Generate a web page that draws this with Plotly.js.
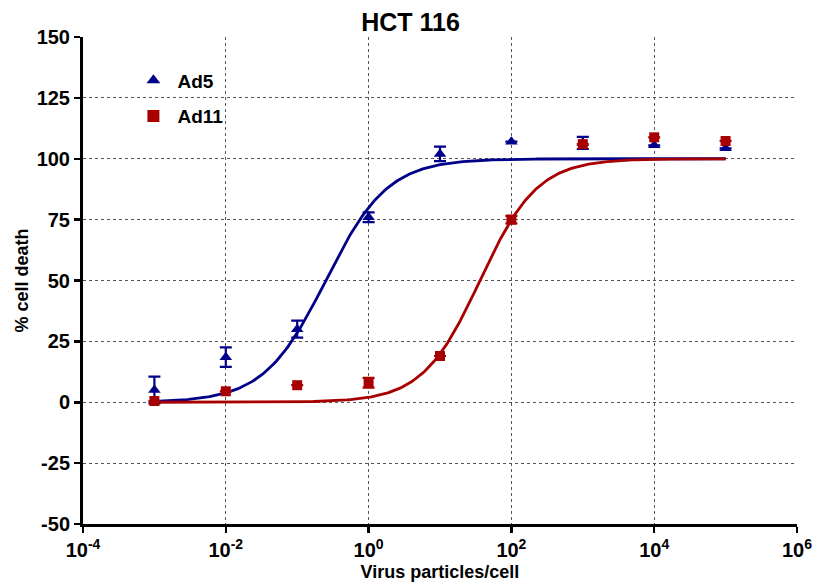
<!DOCTYPE html>
<html>
<head>
<meta charset="utf-8">
<script src="https://cdn.plot.ly/plotly-3.0.1.min.js"></script>
<style>
  html, body { margin: 0; padding: 0; background: #fff; }
  #chart { width: 821px; height: 587px; }
</style>
</head>
<body>
<div id="chart"></div>
<script>
// Virus dose (particles/cell)
const doses = [1e-3, 1e-2, 1e-1, 1, 10, 100, 1000, 1e4, 1e5];

// Mean % cell death and SEM per virus
const ad5Mean  = [5, 18.5, 30, 76, 102, 107, 106.5, 105.5, 104.3];
const ad5Err   = [5.5, 4, 3.5, 2, 3, 0, 2.5, 0, 0];
const ad11Mean = [0.5, 4.5, 7, 8, 19, 75, 106, 108.8, 107.3];
const ad11Err  = [0, 0, 0, 2, 0, 1.5, 0, 0, 0];

// Sigmoidal dose-response fit parameters (log10 EC50, Hill slope, bottom, top)
const ad5Fit  = { logEC50: -0.6, hill: 1.0, bottom: 0, top: 100 };
const ad11Fit = { logEC50: 1.56, hill: 1.08, bottom: 0, top: 100 };

// Tick labels for both axes
const xTickVals = [1e-4, 1e-2, 1, 1e2, 1e4, 1e6];
const xTickText = ['10<sup>-4</sup>', '10<sup>-2</sup>', '10<sup>0</sup>',
                   '10<sup>2</sup>', '10<sup>4</sup>', '10<sup>6</sup>'];
const yTickVals = [-50, -25, 0, 25, 50, 75, 100, 125, 150];
const yTickText = ['-50', '-25', '0', '25', '50', '75', '100', '125', '150'];

const blue = '#000088';
const red = '#A80000';

// Evaluate the fitted curve across the dosed range
function fitCurve(p) {
  const xs = [], ys = [];
  const lo = Math.log10(doses[0]), hi = Math.log10(doses[doses.length - 1]);
  for (let i = 0; i <= 300; i++) {
    const lx = lo + (hi - lo) * i / 300;
    xs.push(Math.pow(10, lx));
    ys.push(p.bottom + (p.top - p.bottom) / (1 + Math.pow(10, (p.logEC50 - lx) * p.hill)));
  }
  return { xs, ys };
}

const c5 = fitCurve(ad5Fit);
const c11 = fitCurve(ad11Fit);
const bold = s => '<b>' + s + '</b>';

const font = 'Liberation Sans, Arial, sans-serif';

const traces = [
  { x: c5.xs, y: c5.ys, mode: 'lines', line: { color: blue, width: 2.8 },
    showlegend: false, hoverinfo: 'skip' },
  { x: c11.xs, y: c11.ys, mode: 'lines', line: { color: red, width: 2.8 },
    showlegend: false, hoverinfo: 'skip' },
  { x: doses, y: ad5Mean, name: bold('Ad5'), legendgroup: 'a', mode: 'markers',
    marker: { symbol: 'triangle-up', size: 11, color: blue },
    error_y: { type: 'data', array: ad5Err, visible: true, color: blue, thickness: 2.2, width: 6 } },
  { x: doses, y: ad11Mean, name: bold('Ad11'), legendgroup: 'b', mode: 'markers',
    marker: { symbol: 'square', size: 10, color: red },
    error_y: { type: 'data', array: ad11Err, visible: true, color: red, thickness: 2.2, width: 6 } }
];

const layout = {
  width: 821, height: 587,
  margin: { l: 83, r: 24, t: 37, b: 63 },
  paper_bgcolor: '#fff', plot_bgcolor: '#fff',
  font: { family: font, color: '#000' },
  title: { text: bold('HCT 116'), font: { size: 25, family: font, color: '#000' },
           x: 0.5, xanchor: 'center', y: 0.962, yanchor: 'middle' },
  xaxis: {
    type: 'log', range: [-4, 6],
    tickvals: xTickVals, ticktext: xTickText.map(bold),
    tickfont: { size: 20, family: font, color: '#000' },
    ticks: 'outside', ticklen: 6, tickwidth: 2.5, tickcolor: '#000',
    showline: true, linecolor: '#000', linewidth: 3,
    showgrid: true, gridcolor: '#555', griddash: 'dot', gridwidth: 1,
    zeroline: false,
    title: { text: bold('Virus particles/cell'), font: { size: 18, family: font, color: '#000' }, standoff: 6 }
  },
  yaxis: {
    range: [-50, 150], tickvals: yTickVals, ticktext: yTickText.map(bold),
    tickfont: { size: 20, family: font, color: '#000' },
    ticks: 'outside', ticklen: 6, tickwidth: 2.5, tickcolor: '#000',
    showline: true, linecolor: '#000', linewidth: 3,
    showgrid: true, gridcolor: '#555', griddash: 'dot', gridwidth: 1,
    zeroline: false,
    title: { text: bold('% cell death'), font: { size: 18, family: font, color: '#000' }, standoff: 4 }
  },
  legend: {
    x: 0.065, y: 0.95, xanchor: 'left', yanchor: 'top',
    bgcolor: 'rgba(0,0,0,0)',
    font: { size: 19, family: font, color: '#000' },
    tracegroupgap: 8, itemwidth: 38, itemsizing: 'constant'
  },
  showlegend: true
};

Plotly.newPlot('chart', traces, layout, { displayModeBar: false, staticPlot: true });
</script>
</body>
</html>
